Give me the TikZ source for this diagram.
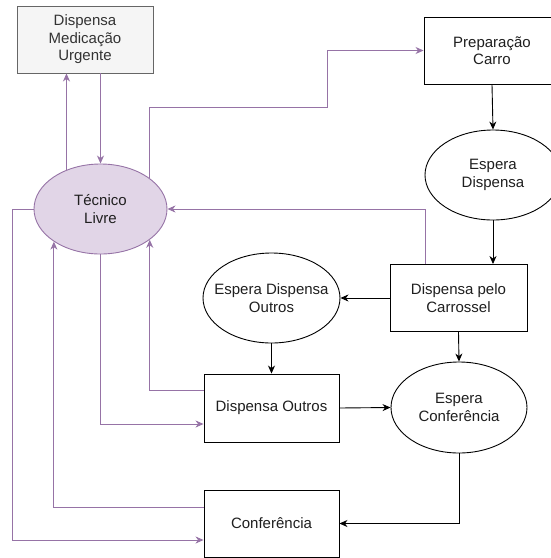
\documentclass[tikz,border=0pt]{standalone}
\usepackage{fontspec}
\setmainfont{Liberation Sans}
\usetikzlibrary{arrows.meta,calc,shapes.geometric}
\definecolor{lilac}{HTML}{E1D5E7}
\definecolor{lilacline}{HTML}{9673A6}
\definecolor{paper}{HTML}{F5F5F5}
\definecolor{paperline}{HTML}{666666}
\definecolor{papertext}{HTML}{333333}
\definecolor{ink}{HTML}{1F1F1F}
\begin{document}
\begin{tikzpicture}[x=1pt,y=-1pt,
  every node/.style={font=\fontsize{15}{17.5}\selectfont, align=center, inner sep=0pt, text=ink},
  task/.style={draw=black, line width=0.9pt, fill=white, minimum width=#1, minimum height=67pt},
  task/.default=136pt,
  waiting/.style={draw=black, line width=0.9pt, fill=white, ellipse, inner xsep=-14pt, minimum width=#1, minimum height=90pt},
  waiting/.default=136pt,
  urgent/.style={draw=paperline, line width=0.9pt, fill=paper, text=papertext, minimum width=136pt, minimum height=67pt},
  idle/.style={draw=lilacline, line width=0.9pt, fill=lilac, ellipse, minimum width=133pt, minimum height=90pt},
  flow/.style={draw=black, line width=0.9pt, -{Stealth[length=8pt,width=7pt,inset=2.5pt]}},
  back/.style={draw=lilacline, line width=0.9pt, -{Stealth[length=8pt,width=7pt,inset=2.5pt]}}
]
\useasboundingbox (0,0) rectangle (551,558);
\clip (0,0) rectangle (551,558);

% nodes
\node[urgent] (urg) at (85,39.5) {Dispensa\\Medicação\\Urgente};
\node[idle] (tec) at (100.5,209) {Técnico\\Livre};
\node[task] (prep) at (492,50.5) {Preparação\\Carro};
\node[waiting] (espd) at (493,175) {Espera\\Dispensa};
\node[task=137pt] (carr) at (458.5,298) {Dispensa pelo\\Carrossel};
\node[waiting=137pt] (espo) at (271.5,298) {Espera Dispensa\\Outros};
\node[task=135pt, minimum height=68pt] (dout) at (271.5,408) {Dispensa Outros};
\node[waiting, minimum height=91pt] (espc) at (459,407.5) {Espera\\Conferência};
\node[task=135pt] (conf) at (271.5,523.5) {Conferência};

% bend points of the routed connectors
\coordinate (up1) at (327,107);
\coordinate (rt1) at (425,208);
\coordinate (lf1) at (12,540);

% main flow
\draw[flow] (prep.south) -- (espd.north);
\draw[flow] (espd.south) -- (espd.south |- carr.north);
\draw[flow] (carr.south) -- (espc.north);
\draw[flow] (carr.west) -- (espo.east);
\draw[flow] (espo.south) -- (dout.north);
\draw[flow] (dout.east) -- (espc.west);
\draw[flow] (espc.south) |- (conf.east);

% returns to and departures from the idle technician
\draw[back] (tec.131) -- (tec.131 |- urg.south);
\draw[back] (tec.north |- urg.south) -- (tec.north);
\draw[back] (tec.32) |- (up1) |- (prep.west);
\draw[back] (carr.north -| rt1) |- (tec.east);
\draw[back] ($(dout.west)+(0,-18)$) -| (tec.-32);
\draw[back] (tec.south) |- ($(dout.west)+(0,16)$);
\draw[back] ($(conf.west)+(0,-16.5)$) -| (tec.215);
\draw[back] (tec.west) -| (lf1) -- ($(conf.west)+(0,16.5)$);
\end{tikzpicture}
\end{document}
